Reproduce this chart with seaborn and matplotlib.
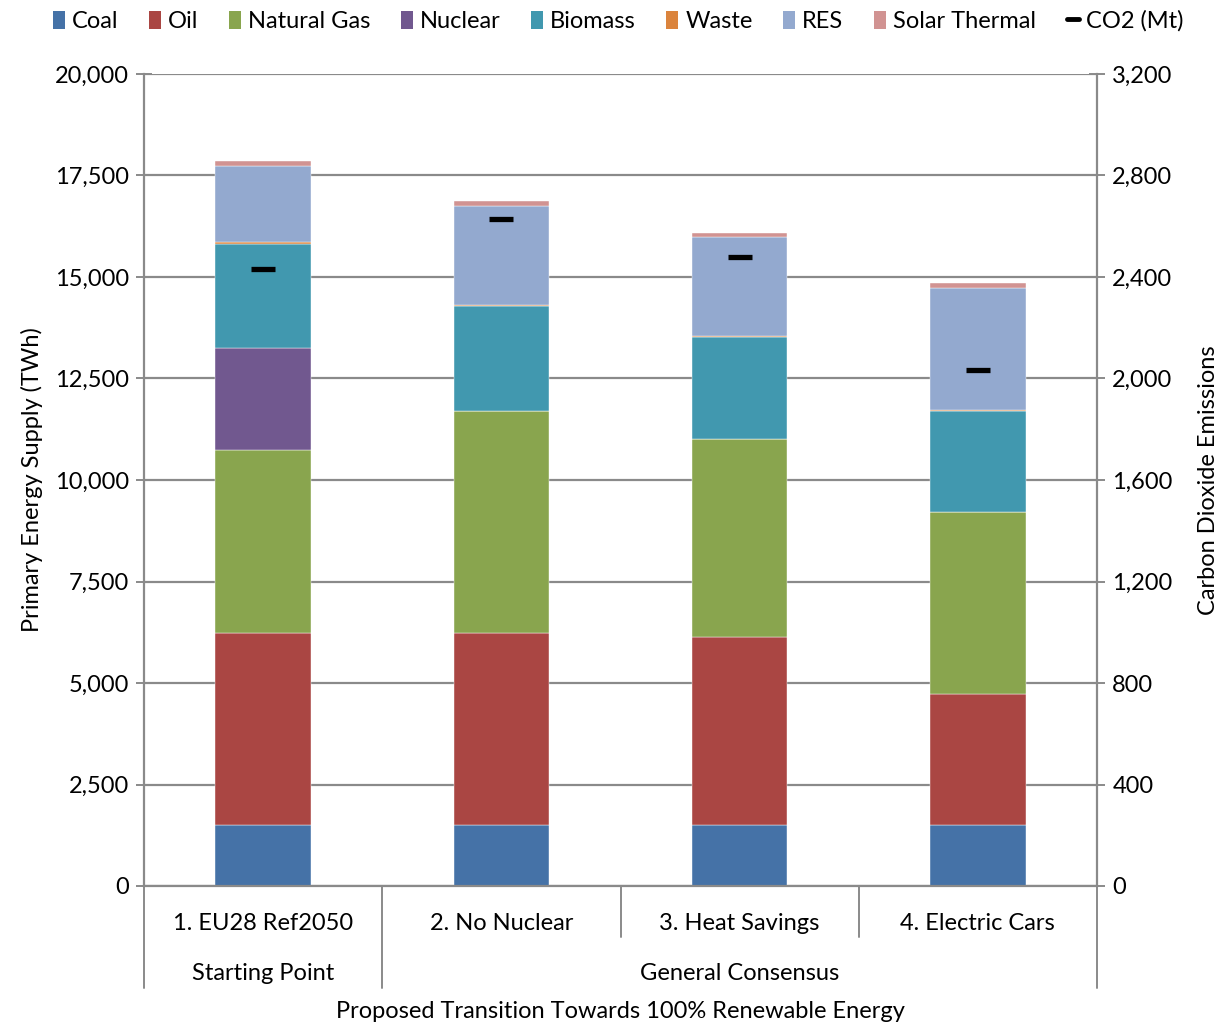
import matplotlib
matplotlib.use("Agg")
import matplotlib.pyplot as plt
import matplotlib.transforms as mtransforms
from matplotlib.patches import Patch
from matplotlib.lines import Line2D
from matplotlib.ticker import FuncFormatter
import numpy as np
import pandas as pd
import seaborn as sns

# Scenarios and grouping
scenarios = ["1. EU28 Ref2050", "2. No Nuclear", "3. Heat Savings", "4. Electric Cars"]
groups = ["Starting Point", "General Consensus"]

# Primary energy supply by source (TWh)
coal = [1500, 1500, 1500, 1500]
oil = [4720, 4720, 4630, 3220]
natural_gas = [4520, 5480, 4880, 4480]
nuclear = [2505, 0, 0, 0]
biomass = [2580, 2590, 2515, 2490]
waste = [30, 20, 30, 30]
res = [1885, 2445, 2430, 3020]
solar_thermal = [115, 125, 100, 100]

# Carbon dioxide emissions (Mt)
co2 = [2430, 2627, 2477, 2032]

series_names = ["Coal", "Oil", "Natural Gas", "Nuclear", "Biomass", "Waste", "RES", "Solar Thermal"]
series_values = [coal, oil, natural_gas, nuclear, biomass, waste, res, solar_thermal]
series_colors = ["#4572A7", "#AA4643", "#89A54E", "#71588F", "#4198AF", "#DB843D", "#93A9CF", "#D19392"]

sns.set_theme(style="white")
plt.rcParams["font.family"] = ["Lato", "DejaVu Sans"]
plt.rcParams["text.color"] = "black"
plt.rcParams["axes.labelcolor"] = "black"
plt.rcParams["xtick.color"] = "black"
plt.rcParams["ytick.color"] = "black"
FS = 17

fig = plt.figure(figsize=(12.27, 10.23), dpi=100)
ax = fig.add_axes([144 / 1227, 1 - 886 / 1023, (1097 - 144) / 1227, (886 - 74) / 1023])

grid_color = "#8a8a8a"
bottom = np.zeros(len(scenarios))
for name, vals, col in zip(series_names, series_values, series_colors):
    df = pd.DataFrame({"scenario": scenarios, "value": vals})
    sns.barplot(data=df, x="scenario", y="value", order=scenarios, color=col,
                width=0.4, bottom=bottom.copy(), edgecolor="#ffffff", linewidth=0.3,
                saturation=1, ax=ax, zorder=2)
    bottom += np.array(vals, dtype=float)

ax.set_xlim(-0.5, 3.5)
ax.set_ylim(0, 20000)
ax.set_yticks(np.arange(0, 20001, 2500))
ax.yaxis.set_major_formatter(FuncFormatter(lambda v, p: f"{int(v):,}"))
ax.yaxis.grid(True, color=grid_color, linewidth=1.6)
ax.set_axisbelow(True)
ax.tick_params(axis="y", direction="inout", length=12, width=1.4, color=grid_color,
               labelcolor="black", labelsize=FS, pad=5, left=True)
ax.tick_params(axis="x", bottom=False, labelbottom=False)
for s in ["top", "right"]:
    ax.spines[s].set_visible(False)
for s in ["left", "bottom"]:
    ax.spines[s].set_color(grid_color)
    ax.spines[s].set_linewidth(1.6)
ax.set_xlabel("")
ax.set_ylabel("Primary Energy Supply (TWh)", fontsize=FS, labelpad=8)

# Secondary axis for emissions
ax2 = ax.twinx()
ax2.set_ylim(0, 3200)
ax2.set_yticks(np.arange(0, 3201, 400))
ax2.yaxis.set_major_formatter(FuncFormatter(lambda v, p: f"{int(v):,}"))
ax2.plot(np.arange(len(scenarios)), co2, linestyle="none", marker="_",
         markersize=17.5, markeredgewidth=3.8, color="black", zorder=5)
ax2.tick_params(axis="y", direction="inout", length=12, width=1.4, color=grid_color,
                labelcolor="black", labelsize=FS, pad=5, right=True)
for s in ["top", "left", "bottom"]:
    ax2.spines[s].set_visible(False)
ax2.spines["right"].set_color(grid_color)
ax2.spines["right"].set_linewidth(1.6)
ax2.set_ylabel("Carbon Dioxide Emissions", fontsize=FS, labelpad=18)
ax2.grid(False)

# Two-level category axis
trans = mtransforms.blended_transform_factory(ax.transData, ax.transAxes)
ax_h = 886 - 74
lvl1_y = -(937 - 886) / ax_h
lvl2_y = -(988 - 886) / ax_h
for x in [-0.5, 0.5, 1.5, 2.5, 3.5]:
    y_end = lvl2_y if x in (-0.5, 0.5, 3.5) else lvl1_y
    ax.add_line(Line2D([x, x], [0, y_end], transform=trans, color=grid_color,
                       linewidth=1.4, clip_on=False))
for i, lab in enumerate(scenarios):
    ax.text(i, -(921 - 886) / ax_h, lab, transform=trans, ha="center",
            va="center_baseline", fontsize=FS)
ax.text(0, -(971 - 886) / ax_h, groups[0], transform=trans, ha="center",
        va="center_baseline", fontsize=FS)
ax.text(2, -(971 - 886) / ax_h, groups[1], transform=trans, ha="center",
        va="center_baseline", fontsize=FS)
fig.text(620 / 1227, 1 - 1010 / 1023, "Proposed Transition Towards 100% Renewable Energy",
         ha="center", va="center_baseline", fontsize=FS)

# Legend
handles = [Patch(facecolor=c, edgecolor="none") for c in series_colors]
handles.append(Line2D([0], [0], color="black", linewidth=3.5))
labels = series_names + ["CO2 (Mt)"]
fig.legend(handles, labels, loc="center", bbox_to_anchor=(618 / 1227, 1 - 21 / 1023), ncol=9,
           frameon=False, fontsize=FS, handlelength=0.5, handleheight=0.8, handletextpad=0.3,
           columnspacing=1.3, borderaxespad=0)

fig.savefig("out.png", dpi=100)
